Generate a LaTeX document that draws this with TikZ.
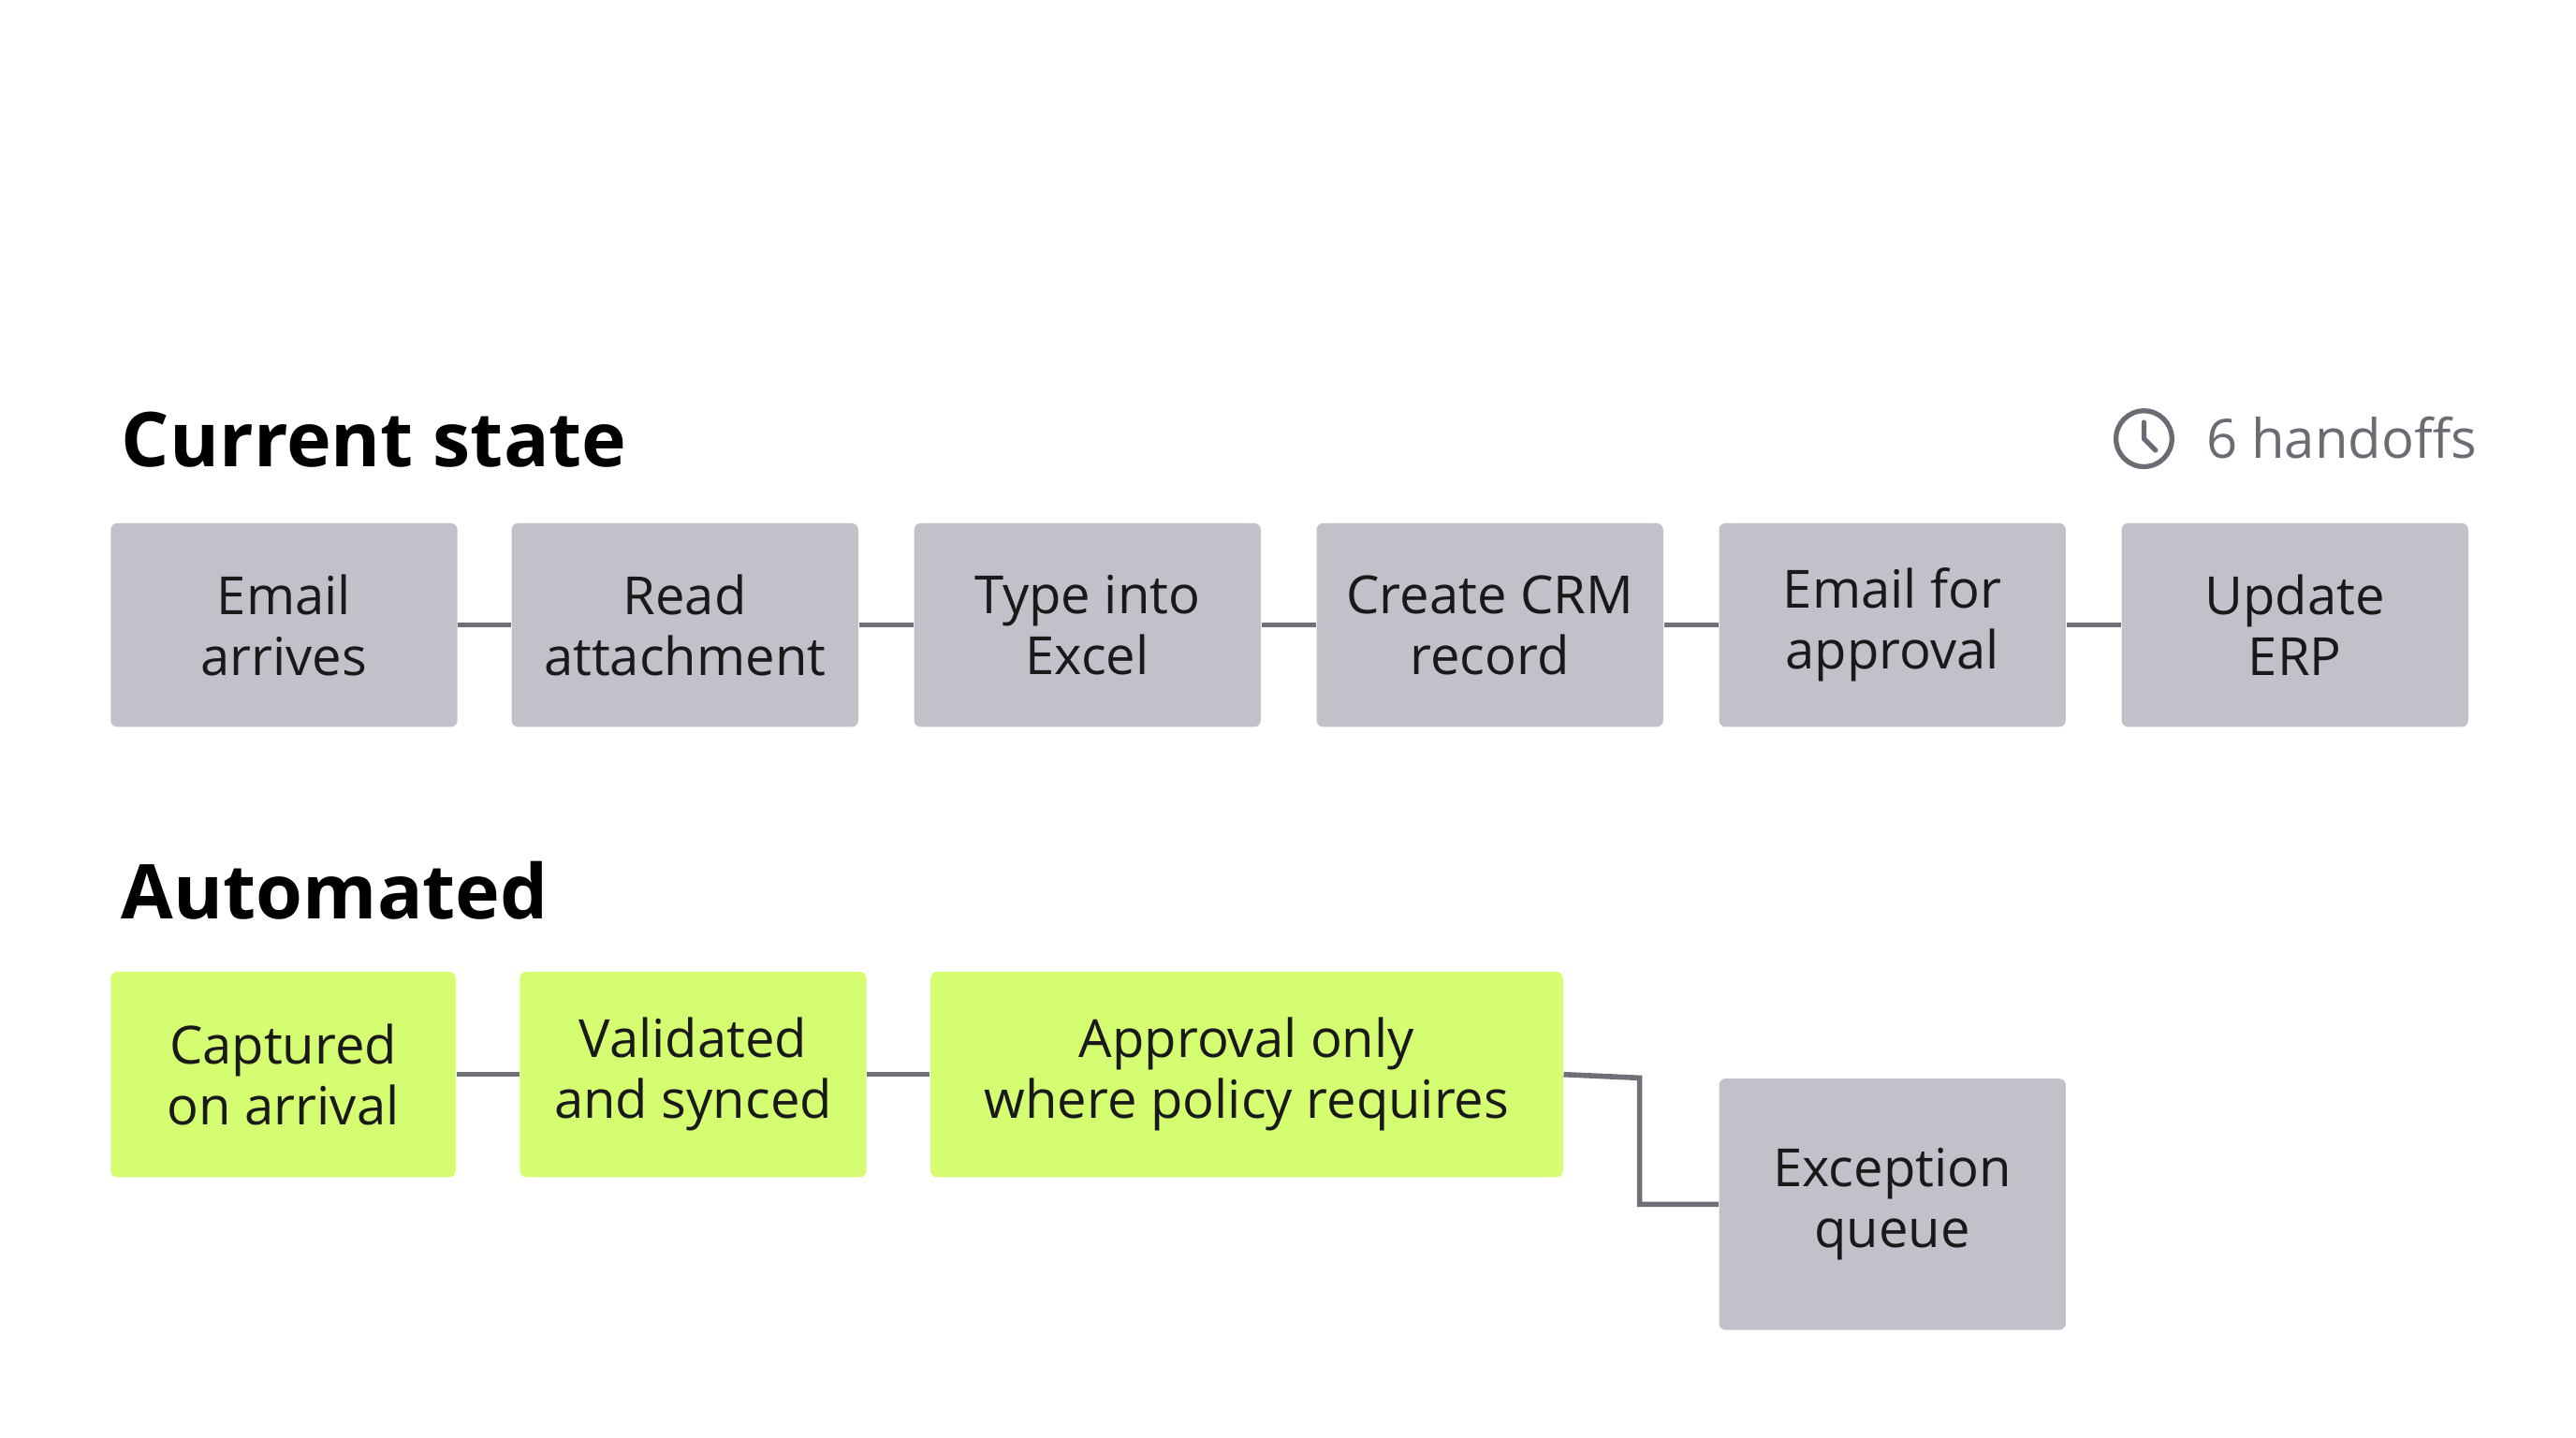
\documentclass[tikz,border=0pt]{standalone}
\usepackage{fontspec}
\setmainfont{Open Sans}
\definecolor{boxgray}{HTML}{C0C1C9}
\definecolor{boxgreen}{HTML}{D5FD72}
\definecolor{linegray}{HTML}{6E7078}
\definecolor{txtgray}{HTML}{6A6C73}
\begin{document}
\begin{tikzpicture}[x=0.5pt,y=-0.5pt,
  box/.style={rectangle,rounded corners=2pt,inner sep=0pt,align=center,font=\fontsize{16}{18.5}\selectfont,text=black!90},
  g/.style={box,fill=boxgray},
  gr/.style={box,fill=boxgreen},
  ln/.style={draw=linegray,line width=1.6pt}]
\useasboundingbox (0,0) rectangle (1568,875);
\node[anchor=base west,font=\fontsize{23}{26}\selectfont\bfseries] (t1) at (67,284) {Current state};
\node[anchor=base west,font=\fontsize{23}{26}\selectfont\bfseries] (t2) at (67,559) {Automated};
\node[circle,draw=txtgray,line width=1.5pt,minimum size=17pt,inner sep=0pt] (clk) at (1305,267) {};
\draw[txtgray,line width=1.5pt,line cap=round] (clk.center) -- ++(0,-10) (clk.center) -- ++(7,7);
\node[anchor=base west,font=\fontsize{16.5}{18}\selectfont,text=txtgray] (h) at (1336,279) {6 handoffs};
\foreach \n/\x/\t in {a/67/{Email\\arrives},b/311/{Read\\attachment},c/556/{Type into\\Excel},d/801/{Create CRM\\record},e/1046/{Email for\\approval},f/1291/{Update\\ERP}}{
  \node[g,minimum width=105.5pt,minimum height=62pt,anchor=north west] (\n) at (\x,318) {\t};}
\foreach \p/\q in {a/b,b/c,c/d,d/e,e/f}{\draw[ln] (\p.east) -- (\q.west);}
\node[gr,minimum width=105pt,minimum height=62.5pt,anchor=north west] (p) at (67,591) {Captured\\on arrival};
\node[gr,minimum width=105.5pt,minimum height=62.5pt,anchor=north west] (q) at (316,591) {Validated\\and synced};
\node[gr,minimum width=192.5pt,minimum height=62.5pt,anchor=north west] (r) at (566,591) {Approval only\\where policy requires};
\node[g,minimum width=105.5pt,minimum height=76.5pt,anchor=north west] (x) at (1046,656) {Exception\\queue};
\draw[ln] (p.east) -- (q.west);
\draw[ln] (q.east) -- (r.west);
\coordinate (k) at (998,656);
\draw[ln] (r.east) -- (k) |- (x.west);
\end{tikzpicture}
\end{document}
